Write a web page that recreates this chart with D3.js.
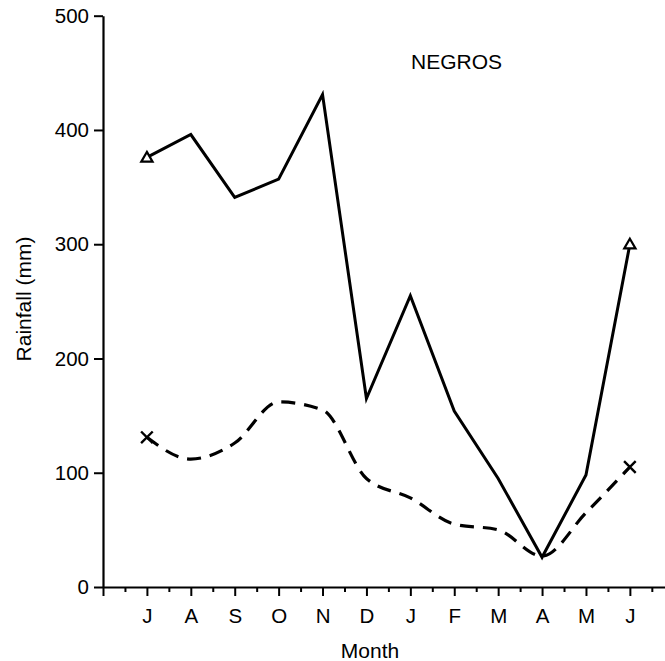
<!DOCTYPE html>
<html>
<head>
<meta charset="utf-8">
<script src="https://cdn.jsdelivr.net/npm/d3@7"></script>
<style>
  html, body { margin: 0; padding: 0; background: #fff; }
  svg { display: block; }
  text { font-family: "Liberation Sans", Arial, Helvetica, sans-serif; fill: #000; }
</style>
</head>
<body>
<svg id="chart" width="665" height="661"></svg>
<script>
// ---- data ----
const months = ["J", "A", "S", "O", "N", "D", "J", "F", "M", "A", "M", "J"];
const rainfallSolid = [376, 396, 341, 357, 431, 165, 255, 154, 95, 26, 98, 300];
const rainfallDashed = [131, 112, 126, 162, 155, 95, 78, 55, 50, 27, 65, 105];
const yTicks = [0, 100, 200, 300, 400, 500];
const title = "NEGROS";
const xTitle = "Month";
const yTitle = "Rainfall (mm)";

// ---- layout ----
const svg = d3.select("#chart");
const x = d3.scaleLinear().domain([-1, 11.8]).range([103, 665]);
const y = d3.scaleLinear().domain([0, 500]).range([587, 15.7]);

// y axis
const yAxis = svg.append("g")
  .attr("transform", `translate(${x(-1)},0)`)
  .call(d3.axisLeft(y).tickValues(yTicks).tickSize(9).tickSizeOuter(0).tickPadding(5));
yAxis.select(".domain").attr("stroke", "#000").attr("stroke-width", 2.2);
yAxis.selectAll(".tick line").attr("stroke", "#000").attr("stroke-width", 2);
yAxis.selectAll(".tick text").attr("font-size", 20.5).attr("font-family", "Liberation Sans, Arial, sans-serif").attr("fill", "#000");

// x axis minor ticks
const minorIdx = d3.range(-0.5, 11.6, 1);
const xMinor = svg.append("g")
  .attr("transform", `translate(0,${y(0)})`)
  .call(d3.axisBottom(x).tickValues(minorIdx).tickSize(5).tickFormat(""));
xMinor.select(".domain").remove();
xMinor.selectAll(".tick line").attr("stroke", "#000").attr("stroke-width", 2);

// x axis major ticks + labels
const majorIdx = d3.range(-1, 12, 1);
const xAxis = svg.append("g")
  .attr("transform", `translate(0,${y(0)})`)
  .call(d3.axisBottom(x).tickValues(majorIdx).tickSize(9).tickSizeOuter(0).tickPadding(12)
    .tickFormat(i => i >= 0 ? months[i] : ""));
xAxis.select(".domain").attr("stroke", "#000").attr("stroke-width", 2.2);
xAxis.selectAll(".tick line").attr("stroke", "#000").attr("stroke-width", 2);
xAxis.selectAll(".tick text").attr("font-size", 20.5).attr("font-family", "Liberation Sans, Arial, sans-serif").attr("fill", "#000");

// lines
const idx = months.map((_, i) => i);
const solidLine = d3.line().x(i => x(i)).y(i => y(rainfallSolid[i]));
const dashedLine = d3.line().x(i => x(i)).y(i => y(rainfallDashed[i])).curve(d3.curveMonotoneX);

svg.append("path")
  .attr("d", solidLine(idx))
  .attr("fill", "none").attr("stroke", "#000").attr("stroke-width", 3)
  .attr("stroke-linejoin", "miter");

svg.append("path")
  .attr("d", dashedLine(idx))
  .attr("fill", "none").attr("stroke", "#000").attr("stroke-width", 3.2)
  .attr("stroke-dasharray", "14 9");

// markers: triangles at ends of solid, crosses at ends of dashed
const ends = [0, months.length - 1];
const tri = d3.symbol().type(d3.symbolTriangle).size(55);
svg.selectAll(".tri").data(ends).join("path")
  .attr("class", "tri")
  .attr("d", tri)
  .attr("transform", i => `translate(${x(i)},${y(rainfallSolid[i]) + 1})`)
  .attr("fill", "#fff").attr("stroke", "#000").attr("stroke-width", 2.2);

const cross = d3.symbol().type(d3.symbolX).size(90);
svg.selectAll(".crs").data(ends).join("path")
  .attr("class", "crs")
  .attr("d", cross)
  .attr("transform", i => `translate(${x(i)},${y(rainfallDashed[i])})`)
  .attr("fill", "none").attr("stroke", "#000").attr("stroke-width", 2.4);

// texts
svg.append("text")
  .attr("x", 411).attr("y", 69)
  .attr("font-size", 21)
  .text(title);

svg.append("text")
  .attr("x", 370).attr("y", 658)
  .attr("text-anchor", "middle")
  .attr("font-size", 21)
  .text(xTitle);

svg.append("text")
  .attr("transform", "translate(31,299) rotate(-90)")
  .attr("text-anchor", "middle")
  .attr("font-size", 21)
  .text(yTitle);
</script>
</body>
</html>
